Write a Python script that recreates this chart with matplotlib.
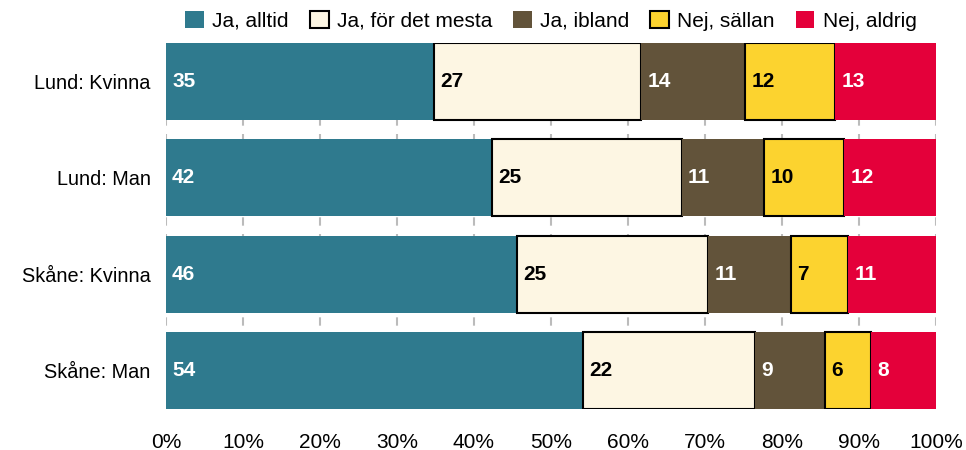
import numpy as np
import matplotlib.pyplot as plt

plt.rcParams['font.family'] = ['Liberation Sans', 'DejaVu Sans']

groups = ["Lund: Kvinna", "Lund: Man", "Skåne: Kvinna", "Skåne: Man"]
series = ["Ja, alltid", "Ja, för det mesta", "Ja, ibland", "Nej, sällan", "Nej, aldrig"]

alltid = [34.8, 42.4, 45.6, 54.2]
mesta = [26.9, 24.6, 24.8, 22.3]
ibland = [13.5, 10.7, 10.8, 9.1]
sallan = [11.7, 10.4, 7.4, 6.0]
aldrig = [13.1, 11.9, 11.4, 8.4]

colors = ["#2F7A8E", "#FDF6E3", "#62533A", "#FCD32F", "#E4003A"]
edges = [None, "black", None, "black", None]
txtcol = ["white", "black", "white", "black", "white"]

fig = plt.figure(figsize=(9.66, 4.5), dpi=100)
ax = fig.add_axes([0.1718, 0.0911, 0.7972, 0.8133])

y = np.arange(len(groups))
left = np.zeros(len(groups))
for i, vals in enumerate([alltid, mesta, ibland, sallan, aldrig]):
    vals = np.array(vals)
    if edges[i]:
        ax.barh(y, vals, 0.8, left=left, color=colors[i], edgecolor=edges[i],
                linewidth=1.5, label=series[i], zorder=3)
    else:
        ax.barh(y, vals, 0.8, left=left, color=colors[i], linewidth=0,
                label=series[i], zorder=3)
    for j, v in enumerate(vals):
        ax.text(left[j] + 0.8, y[j], f"{v:.0f}", va="center", ha="left",
                color=txtcol[i], fontsize=15, fontweight="bold", zorder=4)
    left += vals

ax.set_xlim(0, 100)
ax.set_ylim(len(groups) - 0.6, -0.4)
ax.set_yticks(y)
ax.set_yticklabels(groups, fontsize=14.3)
ax.set_xticks(np.arange(0, 101, 10))
ax.set_xticklabels([f"{t}%" for t in range(0, 101, 10)], fontsize=15)
ax.tick_params(axis="y", length=0, pad=11)
ax.tick_params(axis="x", length=0, pad=17)
for s in ax.spines.values():
    s.set_visible(False)
ax.grid(axis="x", color="#BBBBBB", linestyle=(0, (4, 4)), linewidth=1.5, zorder=0)
ax.set_axisbelow(True)

ax.legend(loc="lower center", bbox_to_anchor=(0.5, 1.0), ncol=5, frameon=False,
          fontsize=15, handlelength=0.9, handleheight=0.9, handletextpad=0.4,
          columnspacing=1.0, borderaxespad=0.2)

fig.savefig("out.png", dpi=100)
